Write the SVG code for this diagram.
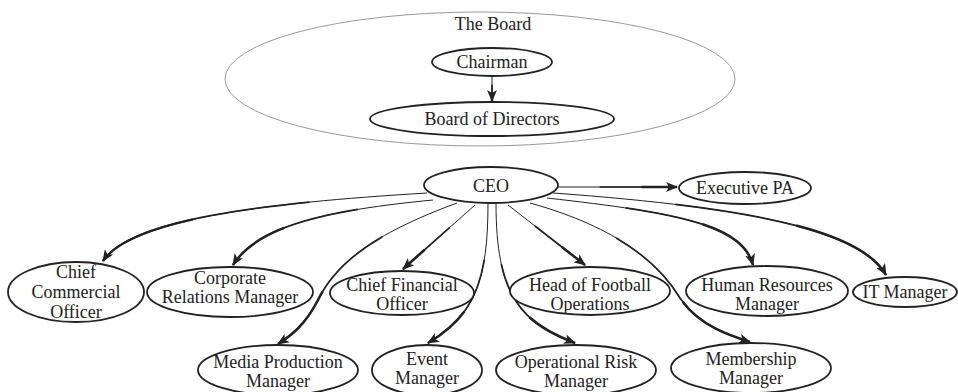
<svg xmlns="http://www.w3.org/2000/svg" width="958" height="392" viewBox="0 0 958 392">
<defs>
<marker id="ah" viewBox="0 0 12 10" refX="11" refY="5" markerWidth="12" markerHeight="10" markerUnits="userSpaceOnUse" orient="auto">
<path d="M0,0 L12,5 L0,10 L3,5 Z" fill="#222"/>
</marker>
<style>
.n{fill:#fff;stroke:#222;stroke-width:1.8}
.a{fill:none;stroke:#222;stroke-width:1}
.b{fill:none;stroke:#222;stroke-width:1.7;stroke-dasharray:0 35 65}
.c{fill:none;stroke:#222;stroke-width:2.5;stroke-dasharray:0 70 30;marker-end:url(#ah)}
</style>
<path id="p0" pathLength="100" d="M492,76 L492,101"/>
<path id="p1" pathLength="100" d="M558,187 L677,187"/>
<path id="p2" pathLength="100" d="M427,193 C260,203 130,220 103,261"/>
<path id="p3" pathLength="100" d="M433,200 C330,210 258,225 233,265"/>
<path id="p4" pathLength="100" d="M457,203 C370,235 335,265 318,300 C305,325 292,335 278,344"/>
<path id="p5" pathLength="100" d="M475,205 L403,269"/>
<path id="p6" pathLength="100" d="M488,203 C488,280 475,315 428,343"/>
<path id="p7" pathLength="100" d="M496,203 C496,295 520,322 575,343"/>
<path id="p8" pathLength="100" d="M508,205 L585,265"/>
<path id="p9" pathLength="100" d="M530,203 C620,228 660,265 680,298 C698,325 728,335 750,342"/>
<path id="p10" pathLength="100" d="M547,198 C680,213 742,225 753,265"/>
<path id="p11" pathLength="100" d="M553,193 C760,208 862,232 886,275"/>
</defs>
<rect width="958" height="392" fill="#fff"/>
<g id="board">
<ellipse cx="480" cy="79" rx="255" ry="67" fill="none" stroke="#999" stroke-width="1"/>
<text x="493" y="30" font-family="Liberation Serif" font-size="18" fill="#222" text-anchor="middle">The Board</text>
</g>
<g id="connectors">
<use href="#p0" class="a"/><use href="#p0" class="b"/><use href="#p0" class="c"/>
<use href="#p1" class="a"/><use href="#p1" class="b"/><use href="#p1" class="c"/>
<use href="#p2" class="a"/><use href="#p2" class="b"/><use href="#p2" class="c"/>
<use href="#p3" class="a"/><use href="#p3" class="b"/><use href="#p3" class="c"/>
<use href="#p4" class="a"/><use href="#p4" class="b"/><use href="#p4" class="c"/>
<use href="#p5" class="a"/><use href="#p5" class="b"/><use href="#p5" class="c"/>
<use href="#p6" class="a"/><use href="#p6" class="b"/><use href="#p6" class="c"/>
<use href="#p7" class="a"/><use href="#p7" class="b"/><use href="#p7" class="c"/>
<use href="#p8" class="a"/><use href="#p8" class="b"/><use href="#p8" class="c"/>
<use href="#p9" class="a"/><use href="#p9" class="b"/><use href="#p9" class="c"/>
<use href="#p10" class="a"/><use href="#p10" class="b"/><use href="#p10" class="c"/>
<use href="#p11" class="a"/><use href="#p11" class="b"/><use href="#p11" class="c"/>
</g>
<g id="chairman"><ellipse class="n" cx="492" cy="62" rx="60" ry="14"/><text x="492" y="68" font-family="Liberation Serif" font-size="18" fill="#222" text-anchor="middle">Chairman</text></g>
<g id="directors"><ellipse class="n" cx="492" cy="119" rx="122" ry="17"/><text x="492" y="125" font-family="Liberation Serif" font-size="18" fill="#222" text-anchor="middle">Board of Directors</text></g>
<g id="ceo"><ellipse class="n" cx="491" cy="185" rx="67" ry="18"/><text x="491" y="192" font-family="Liberation Serif" font-size="18" fill="#222" text-anchor="middle">CEO</text></g>
<g id="pa"><ellipse class="n" cx="745" cy="188" rx="66" ry="16"/><text x="745" y="194" font-family="Liberation Serif" font-size="18" fill="#222" text-anchor="middle">Executive PA</text></g>
<g id="cco"><ellipse class="n" cx="76" cy="292" rx="68" ry="30"/><text x="76" y="278" font-family="Liberation Serif" font-size="18" fill="#222" text-anchor="middle">Chief</text><text x="76" y="298" font-family="Liberation Serif" font-size="18" fill="#222" text-anchor="middle">Commercial</text><text x="76" y="318" font-family="Liberation Serif" font-size="18" fill="#222" text-anchor="middle">Officer</text></g>
<g id="crm"><ellipse class="n" cx="230" cy="292" rx="83" ry="25"/><text x="230" y="284" font-family="Liberation Serif" font-size="18" fill="#222" text-anchor="middle">Corporate</text><text x="230" y="303" font-family="Liberation Serif" font-size="18" fill="#222" text-anchor="middle">Relations Manager</text></g>
<g id="cfo"><ellipse class="n" cx="402" cy="293" rx="72" ry="22"/><text x="402" y="291" font-family="Liberation Serif" font-size="18" fill="#222" text-anchor="middle">Chief Financial</text><text x="402" y="310" font-family="Liberation Serif" font-size="18" fill="#222" text-anchor="middle">Officer</text></g>
<g id="hfo"><ellipse class="n" cx="590" cy="291" rx="80" ry="24"/><text x="590" y="291" font-family="Liberation Serif" font-size="18" fill="#222" text-anchor="middle">Head of Football</text><text x="590" y="310" font-family="Liberation Serif" font-size="18" fill="#222" text-anchor="middle">Operations</text></g>
<g id="hrm"><ellipse class="n" cx="767" cy="291" rx="81" ry="25"/><text x="767" y="291" font-family="Liberation Serif" font-size="18" fill="#222" text-anchor="middle">Human Resources</text><text x="767" y="310" font-family="Liberation Serif" font-size="18" fill="#222" text-anchor="middle">Manager</text></g>
<g id="itm"><ellipse class="n" cx="905" cy="292" rx="52" ry="15"/><text x="905" y="298" font-family="Liberation Serif" font-size="18" fill="#222" text-anchor="middle">IT Manager</text></g>
<g id="mpm"><ellipse class="n" cx="278" cy="370" rx="80" ry="25"/><text x="278" y="368" font-family="Liberation Serif" font-size="18" fill="#222" text-anchor="middle">Media Production</text><text x="278" y="387" font-family="Liberation Serif" font-size="18" fill="#222" text-anchor="middle">Manager</text></g>
<g id="evm"><ellipse class="n" cx="427" cy="370" rx="55" ry="25"/><text x="427" y="365" font-family="Liberation Serif" font-size="18" fill="#222" text-anchor="middle">Event</text><text x="427" y="384" font-family="Liberation Serif" font-size="18" fill="#222" text-anchor="middle">Manager</text></g>
<g id="orm"><ellipse class="n" cx="576" cy="370" rx="80" ry="25"/><text x="576" y="368" font-family="Liberation Serif" font-size="18" fill="#222" text-anchor="middle">Operational Risk</text><text x="576" y="387" font-family="Liberation Serif" font-size="18" fill="#222" text-anchor="middle">Manager</text></g>
<g id="mem"><ellipse class="n" cx="751" cy="368" rx="80" ry="25"/><text x="751" y="365" font-family="Liberation Serif" font-size="18" fill="#222" text-anchor="middle">Membership</text><text x="751" y="384" font-family="Liberation Serif" font-size="18" fill="#222" text-anchor="middle">Manager</text></g>
</svg>
